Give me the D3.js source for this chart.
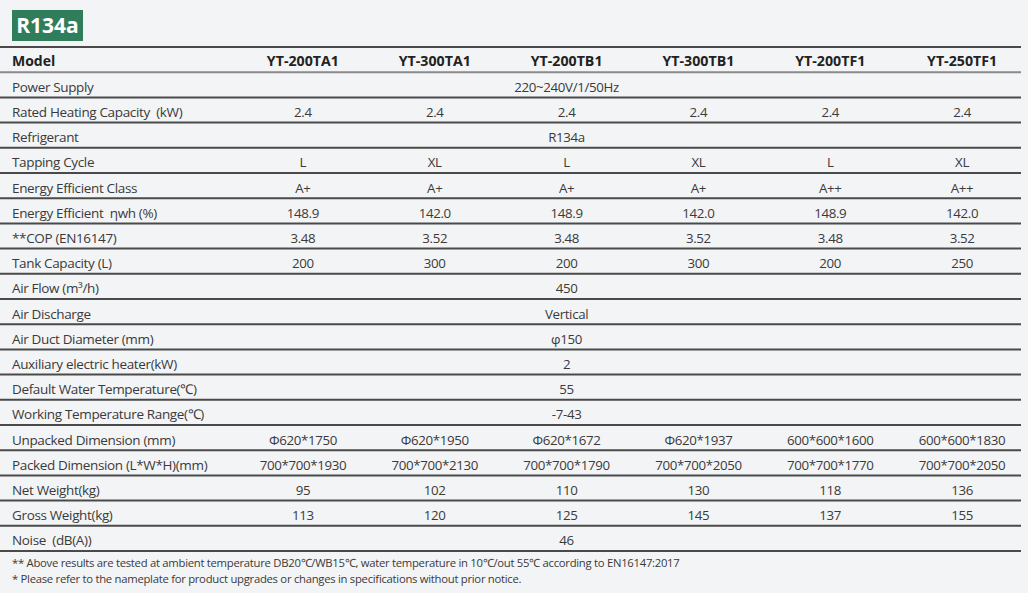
<!DOCTYPE html>
<html><head><meta charset="utf-8">
<script src="https://cdn.jsdelivr.net/npm/d3@7"></script>
<style>
html,body{margin:0;padding:0;background:#f3f4f6;}
svg{display:block;font-family:"Open Sans",sans-serif;}
svg text{white-space:pre;}
</style></head>
<body><svg id="c" width="1028" height="593"></svg>
<script>
const title = "R134a";
const models = ["YT-200TA1","YT-300TA1","YT-200TB1","YT-300TB1","YT-200TF1","YT-250TF1"];
const rowLabels = [
  "Power Supply","Rated Heating Capacity  (kW)","Refrigerant","Tapping Cycle","Energy Efficient Class",
  "Energy Efficient  ηwh (%)","**COP (EN16147)","Tank Capacity (L)","Air Flow (m³/h)","Air Discharge",
  "Air Duct Diameter (mm)","Auxiliary electric heater(kW)","Default Water Temperature(℃)",
  "Working Temperature Range(℃)","Unpacked Dimension (mm)","Packed Dimension (L*W*H)(mm)",
  "Net Weight(kg)","Gross Weight(kg)","Noise  (dB(A))"
];
const powerSupply = "220~240V/1/50Hz";
const heatingCapacity = ["2.4","2.4","2.4","2.4","2.4","2.4"];
const refrigerant = "R134a";
const tappingCycle = ["L","XL","L","XL","L","XL"];
const energyClass = ["A+","A+","A+","A+","A++","A++"];
const efficiency = ["148.9","142.0","148.9","142.0","148.9","142.0"];
const cop = ["3.48","3.52","3.48","3.52","3.48","3.52"];
const tankCapacity = ["200","300","200","300","200","250"];
const airFlow = "450";
const airDischarge = "Vertical";
const ductDiameter = "φ150";
const auxHeater = "2";
const defaultWaterTemp = "55";
const workingTempRange = "-7-43";
const unpackedDim = ["Φ620*1750","Φ620*1950","Φ620*1672","Φ620*1937","600*600*1600","600*600*1830"];
const packedDim = ["700*700*1930","700*700*2130","700*700*1790","700*700*2050","700*700*1770","700*700*2050"];
const netWeight = ["95","102","110","130","118","136"];
const grossWeight = ["113","120","125","145","137","155"];
const noise = "46";
const footnotes = [
  "** Above results are tested at ambient temperature DB20℃/WB15℃, water temperature in 10℃/out 55℃ according to EN16147:2017",
  "* Please refer to the nameplate for product upgrades or changes in specifications without prior notice."
];

const rowValues = [powerSupply, heatingCapacity, refrigerant, tappingCycle, energyClass, efficiency, cop,
  tankCapacity, airFlow, airDischarge, ductDiameter, auxHeater, defaultWaterTemp, workingTempRange,
  unpackedDim, packedDim, netWeight, grossWeight, noise];

const svg = d3.select("#c");
const textColor = "#3a3a3a";

// badge
svg.append("rect").attr("x",12).attr("y",10).attr("width",71).attr("height",31).attr("fill","#2f7d5a");
svg.append("text").attr("x",47.5).attr("y",33).attr("text-anchor","middle").attr("fill","#fff")
  .attr("font-size",21).attr("font-weight",700).text(title);

const rows = ["__header", ...rowLabels];
const y = d3.scaleBand().domain(rows).range([47, 551]);
const x = d3.scaleBand().domain(models).range([237, 1028]);
const spanCenter = x(models[2]) + x.bandwidth()/2;

// lines
const lineYs = rows.map(r => y(r)).concat([551]);
svg.selectAll("line.rl").data(lineYs).join("line")
  .attr("x1",0).attr("x2",1021).attr("y1",d=>d).attr("y2",d=>d)
  .attr("stroke",(d,i)=> i===1 ? "#8a8a8a" : "#4a4a4a").attr("stroke-width",2);

// header
const hy = y("__header")+y.bandwidth()/2+6;
svg.append("text").attr("x",12).attr("y",hy)
  .attr("font-size",14).attr("font-weight",700).attr("fill","#222").text("Model");
svg.selectAll("text.hd").data(models).join("text")
  .attr("x",d=>x(d)+x.bandwidth()/2).attr("y",hy)
  .attr("text-anchor","middle").attr("font-size",14.2).attr("font-weight",700).attr("fill","#222").text(d=>d);

// row labels
svg.selectAll("text.rl").data(rowLabels).join("text")
  .attr("x",12).attr("y",d=>y(d)+y.bandwidth()/2+7)
  .attr("font-size",13.5).attr("letter-spacing",-0.35).attr("fill",textColor).text(d=>d);

// values
rowLabels.forEach((lab,i) => {
  const v = rowValues[i];
  const cy = y(lab)+y.bandwidth()/2+7;
  if (Array.isArray(v)) {
    svg.selectAll(null).data(v).join("text")
      .attr("x",(d,j)=>x(models[j])+x.bandwidth()/2).attr("y",cy)
      .attr("text-anchor","middle").attr("font-size",13.3).attr("letter-spacing",-0.35).attr("fill",textColor).text(d=>d);
  } else {
    svg.append("text").attr("x",spanCenter).attr("y",cy).attr("text-anchor","middle")
      .attr("font-size",13.3).attr("letter-spacing",-0.35).attr("fill",textColor).text(v);
  }
});

// footnotes
svg.selectAll("text.fn").data(footnotes).join("text")
  .attr("x",12).attr("y",(d,i)=>567+i*16).attr("font-size",11.3).attr("letter-spacing",-0.28)
  .attr("fill",textColor).text(d=>d);
</script></body></html>
